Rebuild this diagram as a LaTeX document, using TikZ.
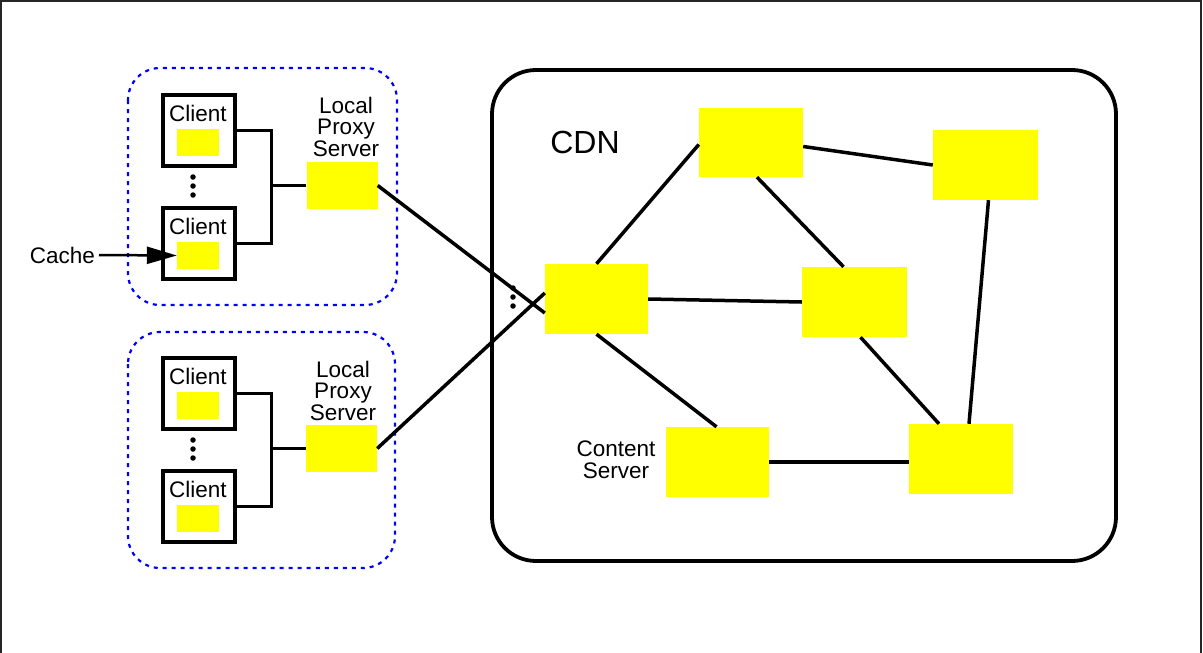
\documentclass[tikz,border=0pt]{standalone}
\usepackage{fontspec}
\setmainfont{Liberation Sans}
\usetikzlibrary{arrows.meta,positioning,calc}

\definecolor{nodeyellow}{RGB}{255,255,0}
\definecolor{groupblue}{RGB}{0,0,255}

\tikzset{
  lbl/.style={font=\fontsize{22.5}{21.5}\selectfont, align=center, inner sep=0pt},
  clientbox/.style={draw=black, line width=4pt, minimum width=72pt, minimum height=71pt, inner sep=0pt},
  cache/.style={fill=nodeyellow, draw=none, minimum width=42pt, minimum height=27pt, inner sep=0pt},
  proxy/.style={fill=nodeyellow, draw=none, minimum width=71pt, minimum height=47pt, inner sep=0pt},
  server/.style={fill=nodeyellow, draw=none, minimum width=104pt, minimum height=70pt, inner sep=0pt},
  group/.style={draw=groupblue, line width=2.2pt, dash pattern=on 4pt off 5pt, rounded corners=32pt},
  link/.style={line width=3.5pt, black},
  wire/.style={line width=3.5pt, black},
  dot/.style={circle, fill=black, minimum size=5.5pt, inner sep=0pt},
}

\begin{document}
\begin{tikzpicture}[x=1pt, y=-1pt]
\useasboundingbox (0,0) rectangle (1203,653);
\clip (0,0) rectangle (1203,653);

% page frame, open at the bottom edge
\draw[line width=2.2pt, black!85] (1,670) -- (1,1) -- (1201,1) -- (1201,670);

% ---------- first proxy group ----------
\draw[group] (128,68) rectangle (397,305);
\node[clientbox] (c1) at (198.5,130.5) {};
\node[clientbox] (c2) at (198.5,243.5) {};
\node[cache] (k1) at (198,142.5) {};
\node[cache] (k2) at (198,255.5) {};
\node[lbl] (t1) at (198,113) {Client};
\node[lbl] (t2) at (198,226) {Client};
\node[dot] (d1) at (193,177) {};
\node[dot] (d2) at (193,186) {};
\node[dot] (d3) at (193,195) {};
\node[proxy] (p1) at (342,185.5) {};
\node[lbl] (pl1) at (346,126.5) {Local\\Proxy\\Server};
\draw[wire] (c1.east) -- ++(35,0) |- (c2.east);
\draw[wire] (p1.west) -- ++(-36,0);

% cache pointer
\node[lbl, anchor=east] (cachelbl) at (95,255) {Cache};
\draw[line width=2.5pt, -{Triangle[length=30pt,width=17pt]}] (cachelbl.east) ++(4,0) -- (k2.west);

% ---------- second proxy group ----------
\draw[group] (128,332) rectangle (395,568);
\node[clientbox] (c3) at (198.5,393.5) {};
\node[clientbox] (c4) at (198.5,506.5) {};
\node[cache] (k3) at (198,405.5) {};
\node[cache] (k4) at (198,518.5) {};
\node[lbl] (t3) at (198,376) {Client};
\node[lbl] (t4) at (198,489) {Client};
\node[dot] (d4) at (193,440) {};
\node[dot] (d5) at (193,449) {};
\node[dot] (d6) at (193,458) {};
\node[proxy] (p2) at (341.5,448.5) {};
\node[lbl] (pl2) at (343,390.5) {Local\\Proxy\\Server};
\draw[wire] (c3.east) -- ++(35,0) |- (c4.east);
\draw[wire] (p2.west) -- ++(-35,0);

% ---------- CDN ----------
\draw[line width=3.8pt, rounded corners=44pt] (492,70) rectangle (1116,561);
\node[font=\fontsize{32}{32}\selectfont, inner sep=0pt] (cdn) at (585,142) {CDN};

\node[server, minimum width=103pt] (A) at (596.5,299) {};
\node[server, minimum height=69pt] (B) at (751,142.5) {};
\node[server, minimum width=105pt] (C) at (985.5,165) {};
\node[server, minimum width=105pt] (D) at (854.5,302) {};
\node[server, minimum width=103pt] (E) at (717.5,462) {};
\node[server] (F) at (961,459) {};
\node[lbl] (el) at (616,459.5) {Content\\Server};

\node[dot] (d7) at (513,288) {};
\node[dot] (d8) at (513,297) {};
\node[dot] (d9) at (513,306) {};

% access links from the proxies
\draw[link] (p1.east) -- ([yshift=-14pt]A.west);
\draw[link] (p2.east) -- ([yshift=6pt]A.west);

% CDN mesh
\draw[link] (A.north) -- ([yshift=-2pt]B.west);
\draw[link] ([yshift=-4pt]B.east) -- (C.west);
\draw[link] ([xshift=6pt]B.south) -- ([xshift=-11pt]D.north);
\draw[link] (A.east) -- (D.west);
\draw[link] (A.south) -- ([xshift=-1pt]E.north);
\draw[link] ([xshift=6pt]D.south) -- ([xshift=-22pt]F.north);
\draw[link] ([xshift=3pt]C.south) -- ([xshift=8pt]F.north);
\draw[link] (E.east) -- (E.east -| F.west);
\end{tikzpicture}
\end{document}
